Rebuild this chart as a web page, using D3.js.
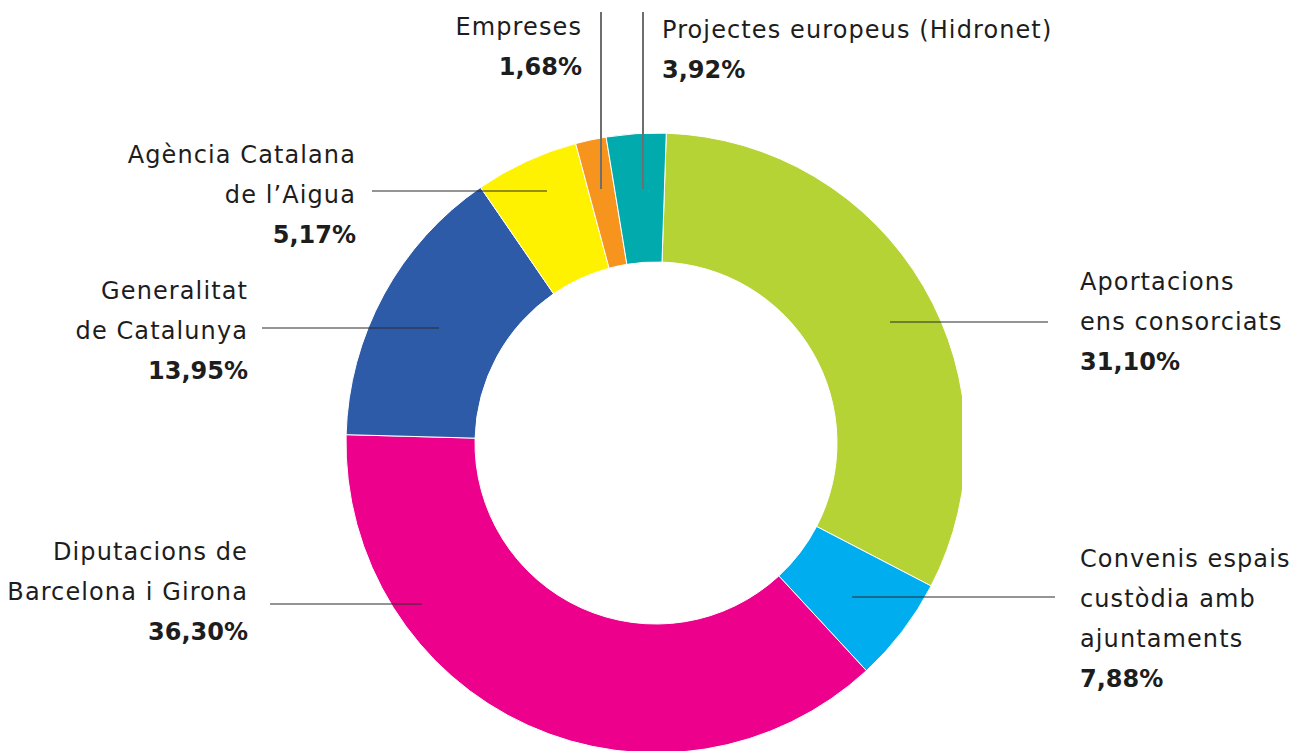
<!DOCTYPE html>
<html>
<head>
<meta charset="utf-8">
<script src="https://cdn.jsdelivr.net/npm/d3@7"></script>
<style>
  body { margin: 0; background: #fff; }
  svg { display: block; }
  text { font-family: "DejaVu Sans", sans-serif; fill: #1d1d1d; }
</style>
</head>
<body>
<svg id="chart" width="1296" height="751"></svg>
<script>
// Categories, clockwise from the top
const categories = [
  ['Aportacions', 'ens consorciats'],
  ['Convenis espais', 'custòdia amb', 'ajuntaments'],
  ['Diputacions de', 'Barcelona i Girona'],
  ['Generalitat', 'de Catalunya'],
  ['Agència Catalana', 'de l’Aigua'],
  ['Empreses'],
  ['Projectes europeus (Hidronet)']
];
// printed percentages
const percentLabels = ['31,10%', '7,88%', '36,30%', '13,95%', '5,17%', '1,68%', '3,92%'];
// share of the ring each slice actually takes in the picture (%)
const sliceShares = [32.1, 5.5, 37.3, 15.0, 5.4, 1.6, 3.1];
const colors = ['#b5d334', '#00aeef', '#ec008c', '#2e5ba8', '#fff200', '#f7941d', '#00aaad'];

const svg = d3.select('#chart');
const cx = 656, cy = 443;
const outerR = 310, innerR = 181;

// clip the right edge of the ring like the original
svg.append('defs').append('clipPath')
  .attr('id', 'ringClip')
  .append('rect')
  .attr('x', 0).attr('y', 0)
  .attr('width', 962).attr('height', 751);

const pie = d3.pie()
  .sort(null)
  .value(d => d)
  .startAngle(1.9 * Math.PI / 180)
  .endAngle((1.9 + 360) * Math.PI / 180);

const arc = d3.arc().innerRadius(innerR).outerRadius(outerR);

const ring = svg.append('g')
  .attr('clip-path', 'url(#ringClip)')
  .append('g')
  .attr('transform', `translate(${cx},${cy})`);

ring.selectAll('path')
  .data(pie(sliceShares))
  .join('path')
  .attr('d', arc)
  .attr('fill', (d, i) => colors[i])
  .attr('stroke', '#fff')
  .attr('stroke-width', 1);

// leader lines and label blocks (layout only)
const labelLayout = [
  { line: [890, 322, 1048, 322], x: 1080, y: 290, anchor: 'start' },
  { line: [852, 597, 1055, 597], x: 1080, y: 567, anchor: 'start' },
  { line: [270, 604, 422, 604], x: 248, y: 560, anchor: 'end' },
  { line: [262, 328, 439, 328], x: 248, y: 299, anchor: 'end' },
  { line: [372, 191, 547, 191], x: 356, y: 163, anchor: 'end' },
  { line: [601, 12, 601, 189], x: 582, y: 35, anchor: 'end' },
  { line: [643, 12, 643, 189], x: 662, y: 38, anchor: 'start' }
];
const lineHeight = 40;

const labels = svg.append('g');

labelLayout.forEach((l, i) => {
  const vertical = l.line[0] === l.line[2];
  labels.append('line')
    .attr('x1', l.line[0]).attr('y1', l.line[1])
    .attr('x2', l.line[2]).attr('y2', l.line[3])
    .attr('stroke', vertical ? '#6e6e6e' : '#2a2a2a')
    .attr('stroke-width', vertical ? 2 : 1.2);

  const t = labels.append('text')
    .attr('text-anchor', l.anchor)
    .attr('font-size', 24);

  categories[i].forEach((s, j) => {
    t.append('tspan')
      .attr('x', l.x)
      .attr('y', l.y + j * lineHeight)
      .attr('font-weight', 'normal')
      .attr('letter-spacing', 1.1)
      .text(s);
  });
  t.append('tspan')
    .attr('x', l.x)
    .attr('y', l.y + categories[i].length * lineHeight)
    .attr('font-weight', 'bold')
    .text(percentLabels[i]);
});
</script>
</body>
</html>
